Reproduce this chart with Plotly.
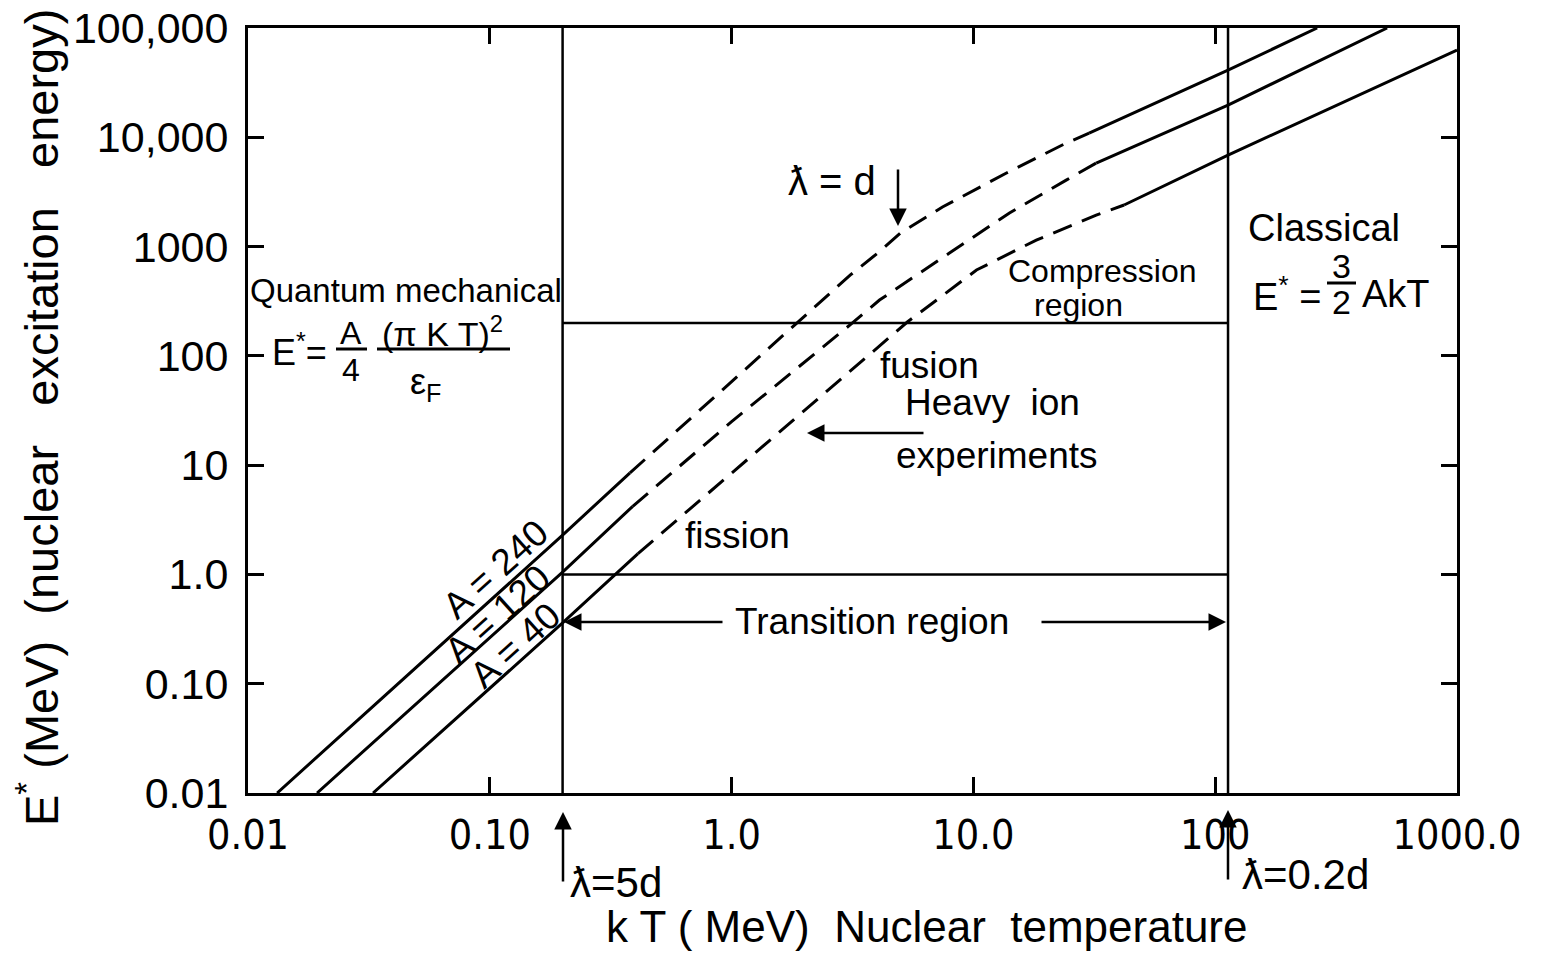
import plotly.graph_objects as go

# ---------------- data ----------------
T_TICKS = [0.01, 0.1, 1, 10, 100, 1000]
T_TICK_LABELS = ["0.01", "0.10", "1.0", "10.0", "100", "1000.0"]
E_TICKS = [0.01, 0.1, 1, 10, 100, 1000, 10000, 100000]
E_TICK_LABELS = ["0.01", "0.10", "1.0", "10", "100", "1000", "10,000", "100,000"]

# A = 240 : quantum (solid), transition (dashed), classical (solid)
A240_Q_T = [0.0132, 0.2, 0.38]
A240_Q_E = [0.01, 2.29, 8.5]
A240_D_T = [0.38, 1.0, 1.93, 3.1, 4.09, 4.99, 7.45, 13.7, 24.2, 30.1]
A240_D_E = [8.5, 58, 213, 550, 900, 1330, 2300, 4710, 8850, 10900]
A240_C_T = [30.1, 113, 264]
A240_C_E = [10900, 41200, 100000]

# A = 120
A120_Q_T = [0.0193, 0.2, 0.39]
A120_Q_E = [0.01, 1.05, 4.2]
A120_D_T = [0.39, 1.0, 3.16, 4.09, 7.96, 14.1, 24.2, 32.2]
A120_D_E = [4.2, 25, 200, 324, 873, 2030, 4055, 5810]
A120_C_T = [32.2, 113, 514]
A120_C_E = [5810, 19700, 100000]

# A = 40
A40_Q_T = [0.0329, 0.2, 0.41]
A40_Q_E = [0.01, 0.36, 1.55]
A40_D_T = [0.41, 1.0, 5.33, 10.3, 18.2, 32.2, 42]
A40_D_E = [1.55, 8.4, 204, 610, 1146, 1940, 2400]
A40_C_T = [42, 113, 1000]
A40_C_E = [2400, 6870, 62800]

# region boundaries
T_LAMBDA_5D = 0.2      # kT where reduced wavelength = 5d
T_LAMBDA_02D = 113     # kT where reduced wavelength = 0.2d
E_COMPRESSION = 200    # lower edge of compression region
E_FISSION = 1.0        # fission / fusion boundary
T_MIN, T_MAX = 0.01, 1000
E_MIN, E_MAX = 0.01, 100000

# ---------------- styling / layout ----------------
W, H = 1542, 955
OFF = 8                               # page body margin
L, R, TOP, BOT = 248, 1457, 28, 793   # plot frame in window pixels
FONT = "Liberation Sans, Arial, sans-serif"
NARROW = "DejaVu Sans Condensed, Liberation Sans Narrow, Liberation Sans, sans-serif"
LW = 3

fig = go.Figure()

def curve(t, e, dashed=False):
    fig.add_trace(go.Scatter(
        x=t, y=e, mode="lines", showlegend=False, hoverinfo="skip",
        line=dict(color="black", width=LW, dash="20px,11px" if dashed else "solid")))

for q_t, q_e, d_t, d_e, c_t, c_e in [
    (A240_Q_T, A240_Q_E, A240_D_T, A240_D_E, A240_C_T, A240_C_E),
    (A120_Q_T, A120_Q_E, A120_D_T, A120_D_E, A120_C_T, A120_C_E),
    (A40_Q_T, A40_Q_E, A40_D_T, A40_D_E, A40_C_T, A40_C_E),
]:
    curve(q_t, q_e)
    curve(d_t, d_e, dashed=True)
    curve(c_t, c_e)

# region boundary lines
def rline(x, y):
    fig.add_trace(go.Scatter(x=x, y=y, mode="lines", showlegend=False, hoverinfo="skip",
                             line=dict(color="black", width=2.5)))

rline([T_LAMBDA_5D, T_LAMBDA_5D], [E_MIN, E_MAX])
rline([T_LAMBDA_02D, T_LAMBDA_02D], [E_MIN, E_MAX])
rline([T_LAMBDA_5D, T_LAMBDA_02D], [E_COMPRESSION, E_COMPRESSION])
rline([T_LAMBDA_5D, T_LAMBDA_02D], [E_FISSION, E_FISSION])

# ---------------- helpers for annotations (window pixel -> paper) ----------------
def P(px, py):
    return (px - L) / (R - L), (BOT - py) / (BOT - TOP)

def txt(s, px, py, size, angle=0, xanchor="center", family=FONT):
    x, y = P(px, py)
    fig.add_annotation(text=s, x=x, y=y, xref="paper", yref="paper", showarrow=False,
                       font=dict(size=size, family=family, color="black"),
                       textangle=angle, xanchor=xanchor, yanchor="middle")

def arrow(tx, ty, hx, hy):
    x, y = P(hx, hy)
    fig.add_annotation(text="", x=x, y=y, xref="paper", yref="paper",
                       ax=tx - hx, ay=ty - hy, axref="pixel", ayref="pixel",
                       showarrow=True, arrowhead=2, arrowsize=1.4, arrowwidth=2.5,
                       arrowcolor="black")

def bar(x0, x1, y):
    a0, b0 = P(x0, y)
    a1, b1 = P(x1, y)
    fig.add_shape(type="line", xref="paper", yref="paper", x0=a0, x1=a1, y0=b0, y1=b1,
                  line=dict(color="black", width=3))

# axis titles
txt("k T ( MeV)  Nuclear  temperature", 926, 926, 44)
txt("E<sup>*</sup> (MeV)  (nuclear   excitation   energy)", 38, 418, 47, angle=-90)

# quantum mechanical formula
txt("Quantum mechanical", 406, 290, 33)
txt("E<sup>*</sup>=", 270, 350, 36, xanchor="left")
txt("A", 351, 333, 32)
bar(336, 367, 349)
txt("4", 351, 370, 32)
txt("(π K T)<sup>2</sup>", 442, 331, 34)
bar(377, 510, 349)
txt("ε<sub>F</sub>", 425, 384, 36)

# classical formula
txt("Classical", 1324, 228, 38)
txt("E<sup>*</sup> =", 1251, 294, 38, xanchor="left")
txt("3", 1341, 266, 34)
bar(1327, 1356, 283)
txt("2", 1341, 302, 34)
txt("AkT", 1360, 294, 38, xanchor="left")

# region labels
txt("Compression", 1102, 271, 32)
txt("region", 1078, 305, 32)
txt("fusion", 929, 365, 37)
txt("Heavy  ion", 992, 402, 37)
txt("experiments", 997, 455, 37)
arrow(925, 433, 807, 433)
txt("fission", 737, 535, 37)
txt("Transition region", 872, 621, 37)
arrow(724, 622, 564, 622)
arrow(1040, 622, 1226, 622)

# lambda markers
txt("ƛ = d", 832, 181, 40)
arrow(898, 168, 898, 226)
txt("ƛ=5d", 616, 882, 42)
arrow(563, 883, 563, 812)
txt("ƛ=0.2d", 1305, 874, 42)
arrow(1228, 881, 1228, 810)

# curve labels
txt("A = 240", 495, 569, 37, angle=-42)
txt("A = 120", 497, 614, 37, angle=-42)
txt("A = 40", 515, 645, 37, angle=-42)

axis_common = dict(
    type="log", showgrid=False, zeroline=False, automargin=False,
    showline=True, linecolor="black", linewidth=3, mirror="ticks",
    ticks="inside", ticklen=16, tickwidth=2.5, tickcolor="black",
    ticklabeloverflow="allow",
)

fig.update_xaxes(range=[-2, 3], tickvals=T_TICKS, ticktext=T_TICK_LABELS,
                 tickfont=dict(size=41, family=NARROW, color="black"),
                 ticklabelstandoff=4, **axis_common)
fig.update_yaxes(range=[-2, 5], tickvals=E_TICKS, ticktext=E_TICK_LABELS,
                 tickfont=dict(size=43, family=FONT, color="black"),
                 ticklabelstandoff=8, **axis_common)

fig.update_layout(
    width=W, height=H, autosize=False,
    margin=dict(l=L - OFF, r=W - (R - OFF), t=TOP - OFF, b=H - (BOT - OFF)),
    paper_bgcolor="white", plot_bgcolor="white",
    showlegend=False,
)

fig.write_html("out.html")
